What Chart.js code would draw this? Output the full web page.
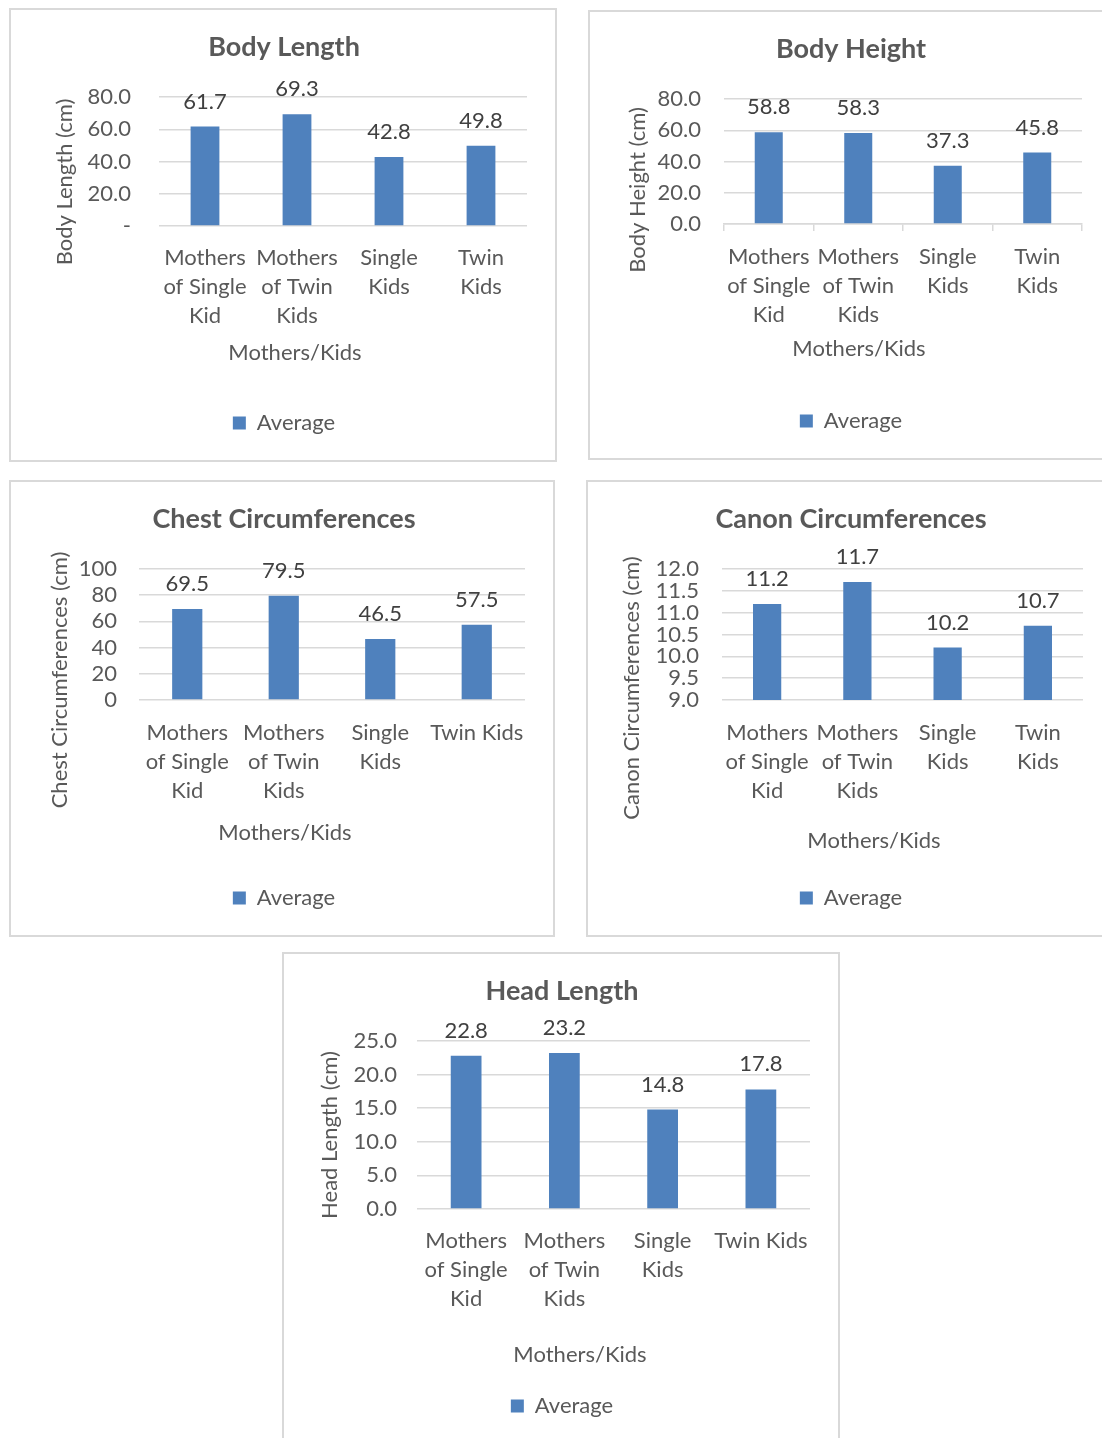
<!DOCTYPE html>
<html>
<head>
<meta charset="utf-8">
<title>Mothers and Kids – Body Measurements</title>
<script src="https://cdn.jsdelivr.net/npm/chart.js@4.4.1/dist/chart.umd.min.js"></script>
<style>
  html, body { margin: 0; padding: 0; background: #ffffff; }
  body { width: 1102px; height: 1438px; position: relative; overflow: hidden; }
  .box { position: absolute; border: 2px solid #d9d9d9; box-sizing: border-box; background: #ffffff; }
  .box canvas { position: absolute; left: 0; top: 0; }
</style>
</head>
<body>
<script>
// ---- data ----
const groupsWrapped = [["Mothers", "of Single", "Kid"], ["Mothers", "of Twin", "Kids"], ["Single", "Kids"], ["Twin", "Kids"]];
const groupsWide    = [["Mothers", "of Single", "Kid"], ["Mothers", "of Twin", "Kids"], ["Single", "Kids"], "Twin Kids"];
const seriesName = "Average";
const categoryTitle = "Mothers/Kids";

const bodyLength = [61.7, 69.3, 42.8, 49.8];
const bodyHeight = [58.8, 58.3, 37.3, 45.8];
const chestCircumference = [69.5, 79.5, 46.5, 57.5];
const canonCircumference = [11.2, 11.7, 10.2, 10.7];
const headLength = [22.8, 23.2, 14.8, 17.8];

const bodyLengthTicks = [0, 20, 40, 60, 80];
const bodyHeightTicks = [0, 20, 40, 60, 80];
const chestTicks = [0, 20, 40, 60, 80, 100];
const canonTicks = [9.0, 9.5, 10.0, 10.5, 11.0, 11.5, 12.0];
const headTicks = [0, 5, 10, 15, 20, 25];

// ---- styling ----
const FONT = 'Lato, "Open Sans", sans-serif';
const TXT = '#595959';
const VALUE_TXT = '#404040';
const GRID = '#d9d9d9';
const BAR = '#4f81bd';
const TXT_PX = 22;
const TICK_LINE = 29;
const TITLE_PX = 27;

const oneDecimal = v => Number(v).toFixed(1);
const dashZero = v => (Number(v) === 0 ? '-' : Number(v).toFixed(1));
const integer = v => String(Math.round(v));

// axis titles positioned freely (category title is centred under the whole chart, not the plot)
const axisTitlePlugin = {
  id: 'axisTitles',
  afterDraw(chart, args, opts) {
    const ctx = chart.ctx;
    ctx.save();
    ctx.fillStyle = TXT;
    ctx.font = TXT_PX + 'px ' + FONT;
    ctx.textAlign = 'center';
    ctx.textBaseline = 'middle';
    ctx.fillText(opts.xText, opts.xPos[0], opts.xPos[1]);
    ctx.translate(opts.yPos[0], opts.yPos[1]);
    ctx.rotate(-Math.PI / 2);
    ctx.fillText(opts.yText, 0, 0);
    ctx.restore();
  }
};

// value printed above each bar
const barValuePlugin = {
  id: 'barValues',
  afterDatasetsDraw(chart, args, opts) {
    const ctx = chart.ctx;
    const meta = chart.getDatasetMeta(0);
    const values = chart.data.datasets[0].data;
    ctx.save();
    ctx.fillStyle = VALUE_TXT;
    ctx.font = TXT_PX + 'px ' + FONT;
    ctx.textAlign = 'center';
    ctx.textBaseline = 'middle';
    meta.data.forEach((bar, i) => {
      ctx.fillText(oneDecimal(values[i]), bar.x, bar.y - opts.offset);
    });
    ctx.restore();
  }
};

function panel(p) {
  const [bl, bt, br, bb] = p.box;
  const ox = bl + 2, oy = bt + 2;
  const W = br - bl - 4, H = bb - bt - 4;

  const box = document.createElement('div');
  box.className = 'box';
  box.style.left = bl + 'px';
  box.style.top = bt + 'px';
  box.style.width = (br - bl) + 'px';
  box.style.height = (bb - bt) + 'px';
  const canvas = document.createElement('canvas');
  canvas.width = W;
  canvas.height = H;
  box.appendChild(canvas);
  document.body.appendChild(box);

  const cL = p.area[0] - ox, cT = p.area[1] - oy, cR = p.area[2] - ox, cB = p.area[3] - oy;
  // left padding chosen so the title and legend are centred where wanted
  const padL = Math.max(0, 2 * (p.titleX - ox) - cR);
  const titleLH = TITLE_PX * 1.2;
  const tTop = p.titleY - oy - titleLH / 2;
  const tBottom = cT - tTop - titleLH;
  const tickLen = p.tickMarks ? 7 : 0;
  const xPad = p.labelY - oy - cB - tickLen - TICK_LINE / 2;
  const xBottom = p.xTitle[1] - oy + 13;
  const legY = p.legendY - oy;
  const itemH = TXT_PX;
  const legPad = legY - xBottom - itemH / 2;
  const legH = legY - xBottom + itemH / 2;
  const padB = H - xBottom - legH;
  const yTicks = p.ticks;

  new Chart(canvas, {
    type: 'bar',
    data: {
      labels: p.labels,
      datasets: [{
        label: seriesName,
        data: p.values,
        backgroundColor: BAR,
        borderWidth: 0,
        barPercentage: 0.313,
        categoryPercentage: 1.0
      }]
    },
    options: {
      responsive: false,
      animation: false,
      events: [],
      layout: { padding: { left: padL, top: 0, right: W - cR, bottom: padB } },
      plugins: {
        title: {
          display: true, text: p.title, color: TXT,
          font: { family: FONT, size: TITLE_PX, weight: 'bold', lineHeight: 1.2 },
          padding: { top: tTop, bottom: tBottom }
        },
        legend: {
          position: 'bottom',
          maxHeight: legH,
          labels: { boxWidth: 13, boxHeight: 13, padding: legPad, color: TXT, font: { family: FONT, size: TXT_PX } }
        },
        tooltip: { enabled: false },
        axisTitles: {
          xText: categoryTitle, xPos: [p.xTitle[0] - ox, p.xTitle[1] - oy],
          yText: p.yTitle, yPos: [p.yTitlePos[0] - ox, p.yTitlePos[1] - oy]
        },
        barValues: { offset: 25 }
      },
      scales: {
        x: {
          offset: true,
          ticks: {
            padding: xPad, color: TXT, maxRotation: 0, autoSkip: false,
            font: { family: FONT, size: TXT_PX, lineHeight: TICK_LINE / TXT_PX }
          },
          grid: {
            display: !!p.tickMarks, drawOnChartArea: false, drawTicks: !!p.tickMarks,
            tickLength: 7, color: GRID, lineWidth: 1.5, offset: true
          },
          border: { display: !!p.tickMarks, color: GRID, width: 1.5 },
          afterFit: s => { s.height = xBottom - cB; }
        },
        y: {
          min: yTicks[0],
          max: yTicks[yTicks.length - 1],
          afterBuildTicks: s => { s.ticks = yTicks.map(v => ({ value: v })); },
          ticks: {
            padding: cL - (p.tickRight - ox), color: TXT, autoSkip: false,
            font: { family: FONT, size: TXT_PX },
            callback: v => p.fmt(v)
          },
          grid: { color: GRID, lineWidth: 1.5, drawTicks: false },
          border: { display: false },
          afterFit: s => { s.width = cL - padL; }
        }
      }
    },
    plugins: [axisTitlePlugin, barValuePlugin]
  });
}

panel({
  box: [9, 8, 557, 462], area: [159, 97, 527, 226],
  title: 'Body Length', titleX: 284, titleY: 47,
  yTitle: 'Body Length (cm)', yTitlePos: [65, 182],
  xTitle: [295, 353], legendY: 423, labelY: 258, tickRight: 131,
  labels: groupsWrapped, values: bodyLength, ticks: bodyLengthTicks, fmt: dashZero
});

panel({
  box: [588, 10, 1108, 460], area: [724, 99, 1082, 224],
  title: 'Body Height', titleX: 851, titleY: 49,
  yTitle: 'Body Height (cm)', yTitlePos: [638, 190],
  xTitle: [859, 349], legendY: 421, labelY: 257, tickRight: 701, tickMarks: true,
  labels: groupsWrapped, values: bodyHeight, ticks: bodyHeightTicks, fmt: oneDecimal
});

panel({
  box: [9, 480, 555, 937], area: [139, 569, 525, 700],
  title: 'Chest Circumferences', titleX: 284, titleY: 519,
  yTitle: 'Chest Circumferences (cm)', yTitlePos: [60, 680],
  xTitle: [285, 833], legendY: 898, labelY: 733, tickRight: 117,
  labels: groupsWide, values: chestCircumference, ticks: chestTicks, fmt: integer
});

panel({
  box: [586, 480, 1108, 937], area: [722, 569, 1083, 700],
  title: 'Canon Circumferences', titleX: 851, titleY: 519,
  yTitle: 'Canon Circumferences (cm)', yTitlePos: [632, 688],
  xTitle: [874, 841], legendY: 898, labelY: 733, tickRight: 699,
  labels: groupsWrapped, values: canonCircumference, ticks: canonTicks, fmt: oneDecimal
});

panel({
  box: [282, 952, 840, 1448], area: [417, 1041, 810, 1209],
  title: 'Head Length', titleX: 562, titleY: 991,
  yTitle: 'Head Length (cm)', yTitlePos: [330, 1135],
  xTitle: [580, 1355], legendY: 1406, labelY: 1241, tickRight: 397,
  labels: groupsWide, values: headLength, ticks: headTicks, fmt: oneDecimal
});
</script>
</body>
</html>
